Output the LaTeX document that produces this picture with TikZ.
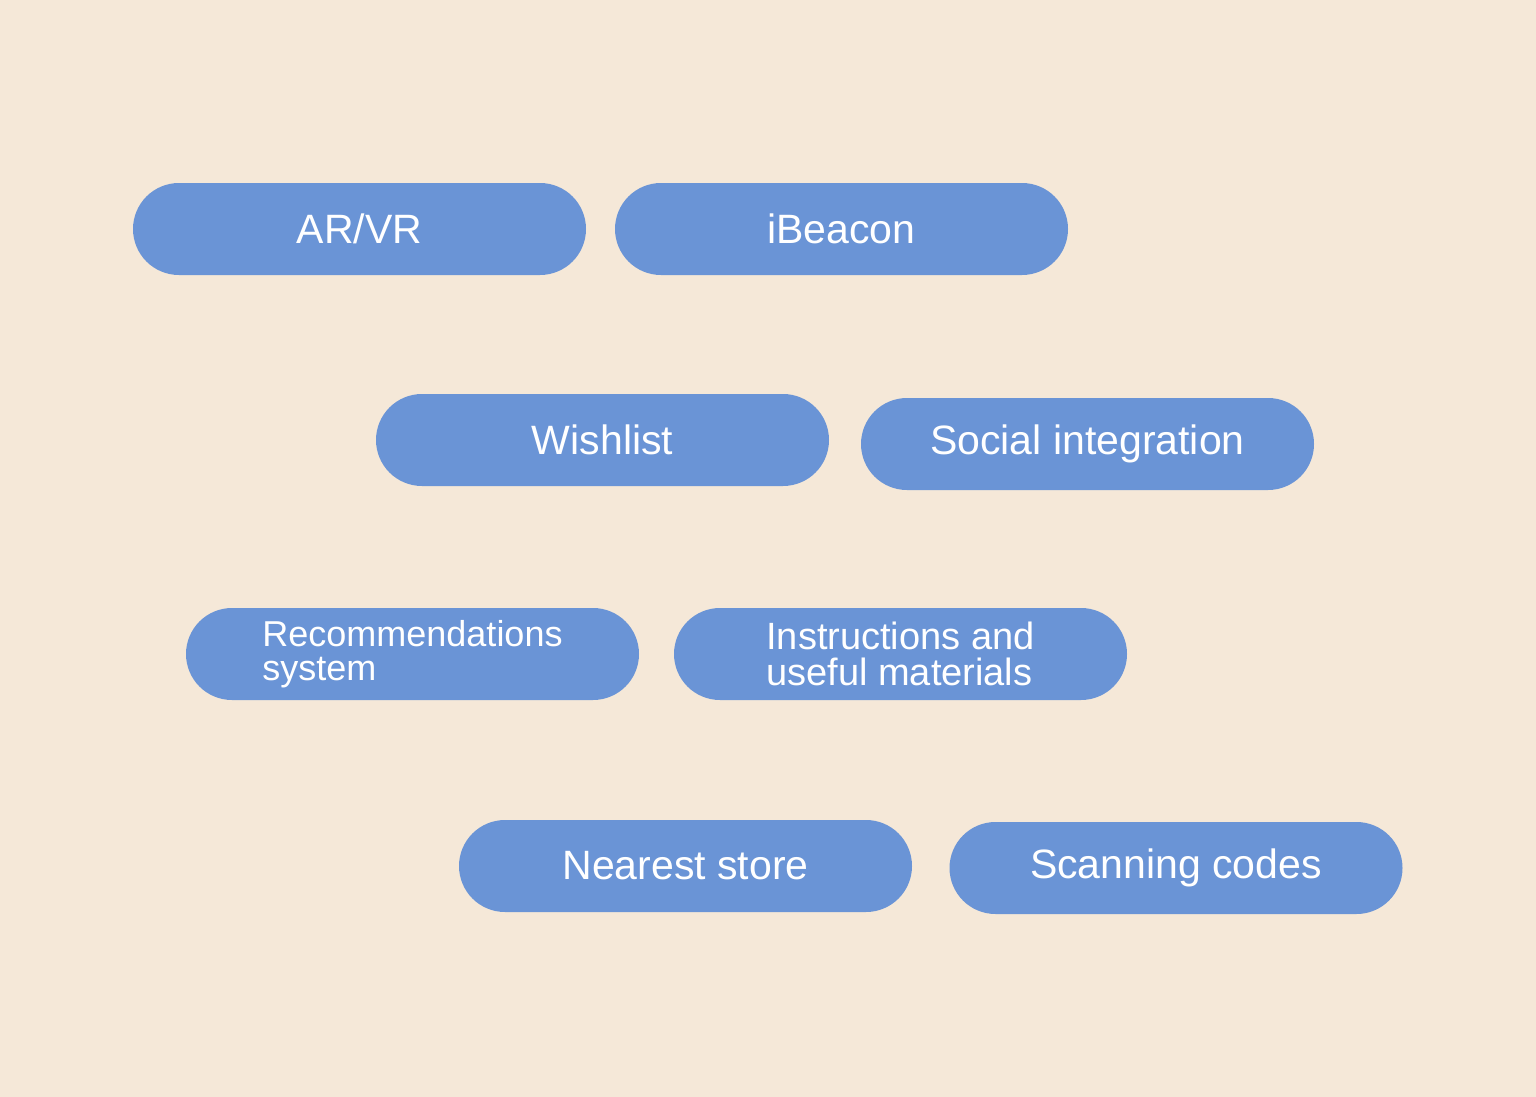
\documentclass[tikz,border=0pt]{standalone}
\usepackage{fontspec}
\setmainfont{Liberation Sans}
\definecolor{bgc}{HTML}{F5E8D8}
\definecolor{pillc}{HTML}{6A94D6}
\begin{document}
\begin{tikzpicture}[x=1pt,y=-1pt,
  pill/.style={draw=none,fill=pillc,rounded corners=46pt,minimum width=453pt,minimum height=92pt,
    inner sep=0pt,text=white,font=\fontsize{41}{41}\selectfont},
  pilltwo/.style={pill,align=left,font=\fontsize{36}{34}\selectfont}]
\fill[bgc] (0,0) rectangle (1536,1097);
\useasboundingbox (0,0) rectangle (1536,1097);
\node[pill] (arvr) at (359.5,229) {AR/VR};
\node[pill] (ibeacon) at (841.5,229) {iBeacon};
\node[pill] (wish) at (602.5,440) {Wishlist};
\node[pill] (social) at (1087.5,444) {Social integration};
\node[pilltwo] (rec) at (412.5,654) {Recommendations\\system};
\node[pilltwo,font=\fontsize{38}{36}\selectfont] (instr) at (900.5,654) {Instructions and\\useful materials};
\node[pill] (near) at (685.5,866) {Nearest store};
\node[pill] (scan) at (1176,868) {Scanning codes};
\end{tikzpicture}
\end{document}
